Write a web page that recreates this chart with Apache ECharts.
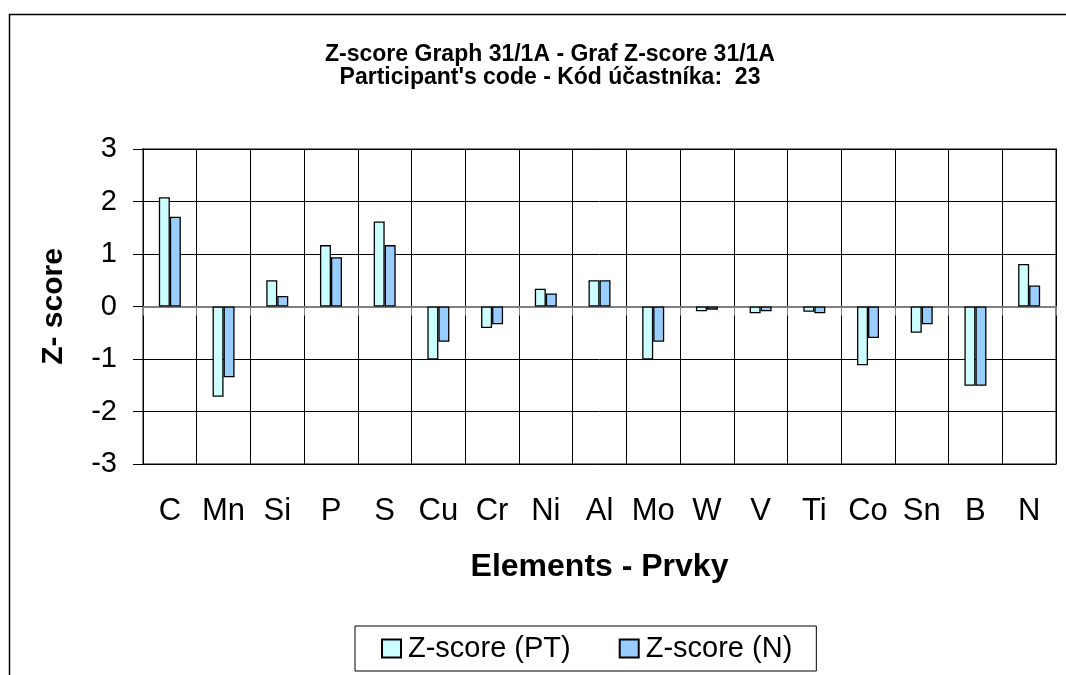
<!DOCTYPE html>
<html>
<head>
<meta charset="utf-8">
<script src="https://cdn.jsdelivr.net/npm/echarts@6/dist/echarts.min.js"></script>
<style>
html,body{margin:0;padding:0;background:#fff;}
#chart{width:1066px;height:675px;}
</style>
</head>
<body>
<div id="chart"></div>
<script>
const categories = ['C','Mn','Si','P','S','Cu','Cr','Ni','Al','Mo','W','V','Ti','Co','Sn','B','N'];
const zscorePT = [2.08,-1.72,0.50,1.17,1.62,-1.01,-0.41,0.34,0.50,-1.01,-0.09,-0.13,-0.10,-1.12,-0.50,-1.51,0.81];
const zscoreN  = [1.71,-1.35,0.20,0.94,1.17,-0.67,-0.34,0.25,0.50,-0.67,-0.06,-0.09,-0.13,-0.60,-0.34,-1.51,0.40];
const seriesNames = ['Z-score (PT)','Z-score (N)'];
const titleLines = ['Z-score Graph 31/1A - Graf Z-score 31/1A', "Participant's code - Kód účastníka:  23"];
const xTitle = 'Elements - Prvky';
const yTitle = 'Z- score';

const FONT = '"Liberation Sans", Arial, sans-serif';
const chart = echarts.init(document.getElementById('chart'), null, {renderer:'canvas'});
chart.setOption({
  backgroundColor:'#fff',
  animation:false,
  textStyle:{fontFamily:FONT},
  graphic:[{
    type:'rect', left:7, top:12, silent:true, z:-10,
    shape:{width:1200,height:800},
    style:{fill:'none', stroke:'#000', lineWidth:1.5}
  }],
  title:{
    text: titleLines.join('\n'),
    left:545, top:38, textAlign:'center',
    textStyle:{fontFamily:FONT, fontSize:23, fontWeight:'bold', color:'#000', lineHeight:23}
  },
  legend:{
    data: seriesNames,
    left:355, top:626,
    orient:'horizontal',
    icon:'rect',
    itemWidth:19, itemHeight:18, itemGap:48,
    borderColor:'#000', borderWidth:1,
    padding:[8,24,8,26],
    textStyle:{fontFamily:FONT, fontSize:29, color:'#000', padding:[0,0,0,2]}
  },
  grid:{
    left:143, right:10, top:149, bottom:211,
    show:true, borderColor:'#808080', borderWidth:2, backgroundColor:'transparent'
  },
  xAxis:[{
    type:'category', data:categories, position:'bottom',
    axisLine:{show:false, onZero:false},
    axisTick:{show:false},
    splitLine:{show:true, lineStyle:{color:'#000', width:1}},
    axisLabel:{fontFamily:FONT, fontSize:31, color:'#000', margin:32, interval:0},
    name:xTitle, nameLocation:'middle', nameGap:87,
    nameTextStyle:{fontFamily:FONT, fontSize:32, fontWeight:'bold', color:'#000'}
  },{
    type:'category', data:categories, position:'bottom',
    axisLine:{show:true, onZero:true, lineStyle:{color:'#808080', width:2}},
    axisTick:{show:true, length:9, lineStyle:{color:'#808080', width:1}},
    axisLabel:{show:false},
    splitLine:{show:false}
  }],
  yAxis:{
    type:'value', min:-3, max:3, interval:1,
    axisLine:{show:true, lineStyle:{color:'#000', width:1}},
    axisTick:{show:true, length:10, lineStyle:{color:'#000', width:1}},
    splitLine:{show:true, lineStyle:{color:'#000', width:1}},
    axisLabel:{fontFamily:FONT, fontSize:29, color:'#000', margin:26},
    name:yTitle, nameLocation:'middle', nameGap:74,
    nameTextStyle:{fontFamily:FONT, fontSize:30, fontWeight:'bold', color:'#000'}
  },
  series:[{
    name:seriesNames[0], type:'bar', xAxisIndex:0, data:zscorePT,
    barWidth:11, barGap:'0%',
    itemStyle:{color:'#CCFFFF', borderColor:'#000', borderWidth:1.3}
  },{
    name:seriesNames[1], type:'bar', xAxisIndex:0, data:zscoreN,
    barWidth:11, barGap:'0%',
    itemStyle:{color:'#99CCFF', borderColor:'#000', borderWidth:1.3}
  }]
});
</script>
</body>
</html>
